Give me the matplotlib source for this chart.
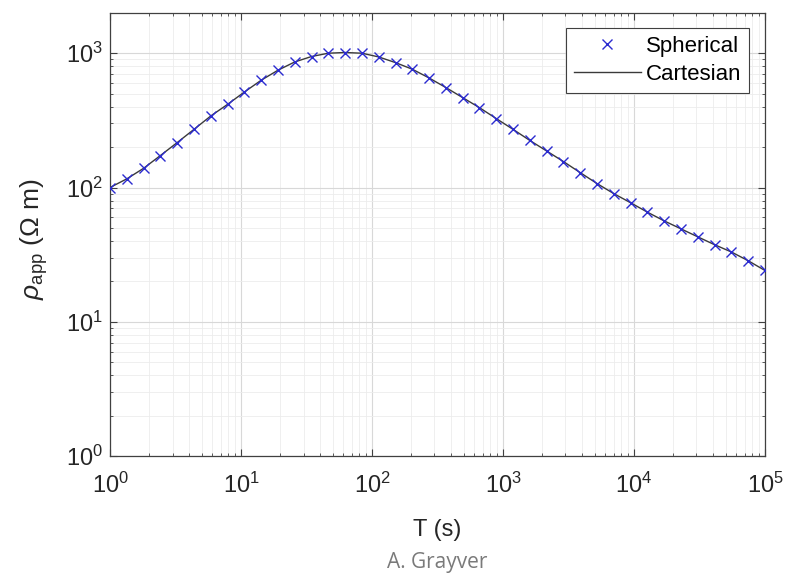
import matplotlib
matplotlib.use('Agg')
import matplotlib.pyplot as plt
import numpy as np
from matplotlib.ticker import LogLocator, NullFormatter

plt.rcParams['font.family'] = ['Liberation Sans', 'DejaVu Sans']
plt.rcParams['mathtext.fontset'] = 'custom'
plt.rcParams['mathtext.rm'] = 'Liberation Sans'
plt.rcParams['mathtext.it'] = 'Liberation Sans:italic'

# periods (s), 40 points over 5 decades
periodo = np.logspace(0, 5, 40)

# apparent resistivity (Ohm m)
rho_esf = [100, 116, 139, 173, 216, 271, 341, 416, 514, 629,
           747, 861, 945, 1000, 1012, 1000, 938, 851, 760, 654,
           555, 467, 393, 326, 271, 224, 187, 156, 129, 107,
           90, 77, 65.5, 56.4, 49.2, 42.9, 37.5, 33.1, 28.5, 24.1]
rho_cart = rho_esf

fig = plt.figure(figsize=(7.87, 5.81), dpi=100)
ax = fig.add_axes([0.1398, 0.215, 0.8322, 0.763])

ax.plot(periodo, rho_cart, '-', color='#3a3a3a', lw=1.0, label='Cartesian', zorder=3)
ax.plot(periodo, rho_esf, 'x', color='#2b2bd0', ms=6.5, mew=1.0, label='Spherical', zorder=4)

ax.set_xscale('log')
ax.set_yscale('log')
ax.set_xlim(1, 1e5)
ax.set_ylim(1, 2000)

ax.xaxis.set_minor_locator(LogLocator(base=10, subs=np.arange(2, 10), numticks=20))
ax.yaxis.set_minor_locator(LogLocator(base=10, subs=np.arange(2, 10), numticks=20))
ax.xaxis.set_minor_formatter(NullFormatter())
ax.yaxis.set_minor_formatter(NullFormatter())

ax.grid(True, which='major', color='#d8d8d8', lw=0.8)
ax.grid(True, which='minor', color='#ececec', lw=0.6)
ax.set_axisbelow(True)

ax.tick_params(which='both', direction='in', top=True, right=True, colors='#404040',
               labelcolor='#262626', labelsize=17)
ax.tick_params(which='major', length=5)
ax.tick_params(which='minor', length=2.5)
ax.tick_params(axis='x', pad=12)
ax.tick_params(axis='y', pad=5)
for s in ax.spines.values():
    s.set_color('#404040')
    s.set_linewidth(0.9)

ax.set_xlabel('T (s)', fontsize=17, color='#262626')
ax.xaxis.set_label_coords(0.5, -0.142)
ax.set_ylabel(r'$\rho_{\mathrm{app}}$ ($\Omega$ m)', fontsize=19, color='#262626')
ax.yaxis.set_label_coords(-0.092, 0.49)

h, l = ax.get_legend_handles_labels()
leg = ax.legend(h[::-1], l[::-1], loc='upper right', fontsize=16, fancybox=False,
                framealpha=1, edgecolor='#404040', borderaxespad=0.7,
                handlelength=3.0, handletextpad=0.25, borderpad=0.35, labelspacing=0.3)
leg.get_frame().set_linewidth(0.8)

fig.text(0.555, 0.032, 'A. Grayver', fontsize=15, color='#7a7a7a', ha='center',
         va='center', family=['Open Sans', 'DejaVu Sans'])

plt.savefig('out.png', dpi=100)
plt.close()
